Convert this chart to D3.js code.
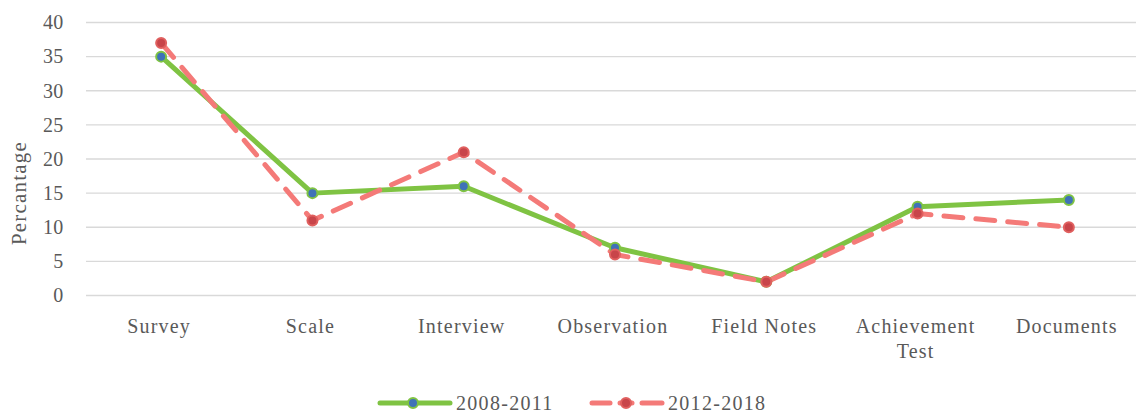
<!DOCTYPE html>
<html><head><meta charset="utf-8">
<script src="https://cdn.jsdelivr.net/npm/d3@7"></script>
<style>body{margin:0;background:#fff}svg{display:block}</style>
</head><body>
<svg id="c" width="1136" height="414"></svg>
<script>
const categories = [["Survey"],["Scale"],["Interview"],["Observation"],["Field Notes"],["Achievement","Test"],["Documents"]];
const series1 = [35, 15, 16, 7, 2, 13, 14];
const series2 = [37, 11, 21, 6, 2, 12, 10];
const seriesNames = ["2008-2011", "2012-2018"];
const yTicks = [0,5,10,15,20,25,30,35,40];

const svg = d3.select("#c");
const W = 1136;
const font = "'Liberation Serif','Times New Roman',serif";
const txt = "#595959";
const x = d3.scaleBand().domain(categories.map((d,i)=>i)).range([85.5, 1144.5]);
const y = d3.scaleLinear().domain([0,40]).range([295.5, 22.5]);

// gridlines
svg.append("g").selectAll("line").data(yTicks).join("line")
  .attr("x1", 86).attr("x2", W).attr("y1", d=>y(d)).attr("y2", d=>y(d))
  .attr("stroke", "#d9d9d9").attr("stroke-width", 1.3);

// y tick labels
svg.append("g").selectAll("text").data(yTicks).join("text")
  .attr("x", 63.5).attr("y", d=>y(d)).attr("dy", "0.34em").attr("text-anchor","end")
  .attr("font-family", font).attr("font-size", 20).attr("fill", txt).attr("letter-spacing", 0.3).text(d=>d);

// y title
svg.append("text").attr("transform","translate(26,193) rotate(-90)").attr("text-anchor","middle")
  .attr("font-family", font).attr("font-size", 21).attr("fill", txt).attr("letter-spacing", 1.2).text("Percantage");

// x labels
const xl = svg.append("g").selectAll("text").data(categories).join("text")
  .attr("x", (d,i)=>x(i)+x.bandwidth()/2 - 2).attr("y", 333).attr("text-anchor","middle")
  .attr("font-family", font).attr("font-size", 20).attr("fill", txt).attr("letter-spacing", 1.2);
xl.each(function(d){
  const t = d3.select(this);
  d.forEach((s,k)=> t.append("tspan").attr("x", t.attr("x")).attr("dy", k? 25 : 0).text(s));
});

const cx = i => x(i)+x.bandwidth()/2;
const line = d3.line().x((d,i)=>cx(i)).y(d=>y(d));

const styles = [
  {stroke:"#7fc343", dash:null, fill:"#3f72b8", mstroke:"#7fc343"},
  {stroke:"#f47a78", dash:"19,13", fill:"#c8454a", mstroke:"#e0605f"}
];
[series1, series2].forEach((s,k)=>{
  const st = styles[k];
  svg.append("path").datum(s).attr("d", line).attr("fill","none")
    .attr("stroke", st.stroke).attr("stroke-width", 5).attr("stroke-linejoin","round")
    .attr("stroke-dasharray", st.dash).attr("stroke-linecap", st.dash? "round":"butt");
});
[series1, series2].forEach((s,k)=>{
  const st = styles[k];
  svg.append("g").selectAll("circle").data(s).join("circle")
    .attr("cx", (d,i)=>cx(i)).attr("cy", d=>y(d)).attr("r", 5)
    .attr("fill", st.fill).attr("stroke", st.mstroke).attr("stroke-width", 2);
});

// legend
const leg = [{x1:380,x2:450,mx:413,tx:456},{x1:592,x2:662,mx:626,tx:668}];
leg.forEach((L,k)=>{
  const st = styles[k];
  const ly = 403;
  if (k===0) {
    svg.append("line").attr("x1",L.x1).attr("x2",L.x2).attr("y1",ly).attr("y2",ly)
      .attr("stroke",st.stroke).attr("stroke-width",5).attr("stroke-linecap","round");
  } else {
    [[L.x1,L.x1+18],[L.mx-6,L.mx+6],[L.x2-20,L.x2]].forEach(([a,b])=>{
      svg.append("line").attr("x1",a).attr("x2",b).attr("y1",ly).attr("y2",ly)
        .attr("stroke",st.stroke).attr("stroke-width",5).attr("stroke-linecap","round");
    });
  }
  svg.append("circle").attr("cx",L.mx).attr("cy",ly).attr("r",5)
    .attr("fill",st.fill).attr("stroke",st.mstroke).attr("stroke-width",2);
  svg.append("text").attr("x",L.tx).attr("y",ly).attr("dy","0.35em")
    .attr("font-family",font).attr("font-size",20).attr("fill",txt).attr("letter-spacing",1.3).text(seriesNames[k]);
});
</script>
</body></html>
